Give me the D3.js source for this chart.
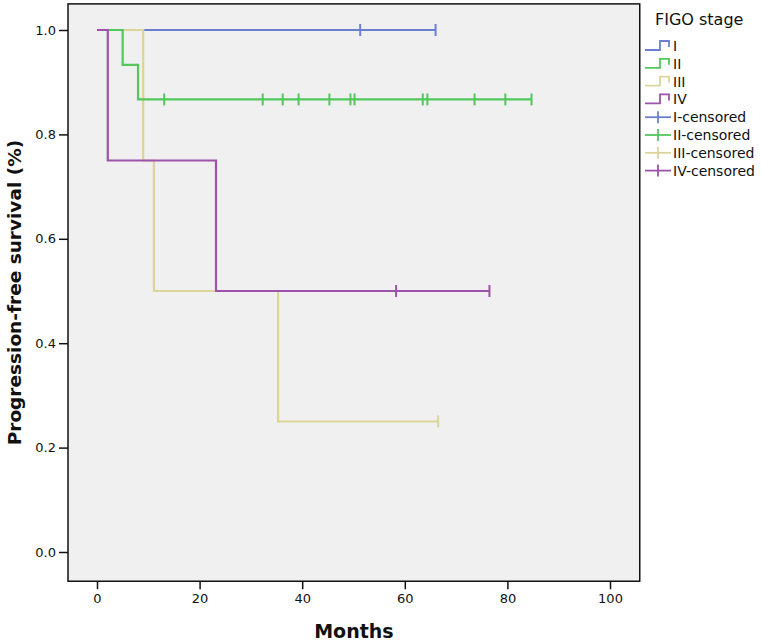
<!DOCTYPE html>
<html>
<head>
<meta charset="utf-8">
<script src="https://cdn.jsdelivr.net/npm/d3@7"></script>
<style>
  html, body { margin: 0; padding: 0; background: #fff; }
  svg { display: block; }
  text { font-family: "DejaVu Sans", sans-serif; fill: #111; }
</style>
</head>
<body>
<svg id="chart" width="762" height="641"></svg>
<script>
// ---- data ----
const stages = ["I", "II", "III", "IV"];
const stageColors = ["#6b7fd1", "#52c85c", "#dcd59b", "#9d52ab"];

const stageI_times = [0, 66];
const stageI_surv = [1.0, 1.0];
const stageI_censor = [51.3, 66];

const stageII_times = [0, 5.0, 8.0, 84.7];
const stageII_surv = [1.0, 0.933, 0.867, 0.867];
const stageII_censor = [13.1, 32.3, 36.2, 39.3, 45.3, 49.4, 50.2, 63.5, 64.4, 73.6, 79.6, 84.7];

const stageIII_times = [0, 9.0, 11.1, 35.3, 66.5];
const stageIII_surv = [1.0, 0.75, 0.5, 0.25, 0.25];
const stageIII_censor = [66.5];

const stageIV_times = [0, 2.1, 23.2, 76.5];
const stageIV_surv = [1.0, 0.75, 0.5, 0.5];
const stageIV_censor = [58.3, 76.5];

const xTicks = [0, 20, 40, 60, 80, 100];
const yTicks = [0.0, 0.2, 0.4, 0.6, 0.8, 1.0];
const legendLabels = ["I", "II", "III", "IV", "I-censored", "II-censored", "III-censored", "IV-censored"];
const xTitle = "Months";
const yTitle = "Progression-free survival (%)";
const legendTitle = "FIGO stage";

// ---- build series ----
const series = [
  { name: "I", times: stageI_times, surv: stageI_surv, censor: stageI_censor, color: stageColors[0] },
  { name: "II", times: stageII_times, surv: stageII_surv, censor: stageII_censor, color: stageColors[1] },
  { name: "III", times: stageIII_times, surv: stageIII_surv, censor: stageIII_censor, color: stageColors[2] },
  { name: "IV", times: stageIV_times, surv: stageIV_surv, censor: stageIV_censor, color: stageColors[3] }
];
// survival level at a time t (step function)
function survAt(s, t) {
  let v = s.surv[0];
  for (let i = 0; i < s.times.length; i++) if (s.times[i] <= t) v = s.surv[i];
  return v;
}

const svg = d3.select("#chart");
const x = d3.scaleLinear().domain([0, 100]).range([97, 610]);
const y = d3.scaleLinear().domain([0, 1]).range([552, 30]);

const fx0 = x(-5.65), fx1 = x(105.8), fy0 = y(1.05), fy1 = y(-0.056);

// plot background
svg.append("rect")
  .attr("x", fx0).attr("y", fy0)
  .attr("width", fx1 - fx0).attr("height", fy1 - fy0)
  .attr("fill", "#f0f0f0")
  .attr("stroke", "#111").attr("stroke-width", 1.5);

// y axis ticks
const yAxis = d3.axisLeft(y).tickValues(yTicks).tickFormat(d3.format(".1f")).tickSize(9).tickPadding(3);
const gy = svg.append("g").attr("transform", `translate(${fx0},0)`).call(yAxis);
gy.select(".domain").remove();
gy.selectAll(".tick line").attr("stroke", "#111").attr("stroke-width", 1.5);
gy.selectAll(".tick text").attr("font-size", 13).attr("font-family", "DejaVu Sans, sans-serif").attr("fill", "#111");

// x axis ticks
const xAxis = d3.axisBottom(x).tickValues(xTicks).tickFormat(d3.format("d")).tickSize(8).tickPadding(5);
const gx = svg.append("g").attr("transform", `translate(0,${fy1})`).call(xAxis);
gx.select(".domain").remove();
gx.selectAll(".tick line").attr("stroke", "#111").attr("stroke-width", 1.5);
gx.selectAll(".tick text").attr("font-size", 13).attr("font-family", "DejaVu Sans, sans-serif").attr("fill", "#111");

// axis titles
svg.append("text")
  .attr("x", (fx0 + fx1) / 2).attr("y", 638)
  .attr("text-anchor", "middle")
  .attr("font-size", 19).attr("font-weight", "bold")
  .text(xTitle);
svg.append("text")
  .attr("transform", `translate(21,${(fy0 + fy1) / 2}) rotate(-90)`)
  .attr("text-anchor", "middle")
  .attr("font-size", 18.5).attr("font-weight", "bold")
  .text(yTitle);

// curves
const line = d3.line().x(d => x(d[0])).y(d => y(d[1])).curve(d3.curveStepAfter);
const drawOrder = [0, 2, 1, 3];
const gCurves = svg.append("g");
drawOrder.forEach(i => {
  const s = series[i];
  const pts = s.times.map((t, k) => [t, s.surv[k]]);
  gCurves.append("path")
    .attr("d", line(pts))
    .attr("fill", "none")
    .attr("stroke", s.color)
    .attr("stroke-width", 2.2)
    .attr("stroke-linejoin", "miter");
});
// censor marks
drawOrder.forEach(i => {
  const s = series[i];
  gCurves.selectAll(null)
    .data(s.censor)
    .enter().append("line")
    .attr("x1", d => x(d)).attr("x2", d => x(d))
    .attr("y1", d => y(survAt(s, d)) - 6)
    .attr("y2", d => y(survAt(s, d)) + 6)
    .attr("stroke", s.color)
    .attr("stroke-width", 2);
});

// legend
const lg = svg.append("g");
lg.append("text").attr("x", 655).attr("y", 25).attr("font-size", 16).text(legendTitle);
const ly0 = 46, lstep = 17.8;
legendLabels.forEach((lab, i) => {
  const yy = ly0 + i * lstep;
  const col = stageColors[i % 4];
  if (i < 4) {
    lg.append("path")
      .attr("d", `M645,${yy + 4} H660 V${yy - 5} H669 V${yy + 1}`)
      .attr("fill", "none").attr("stroke", col).attr("stroke-width", 1.8);
  } else {
    lg.append("line").attr("x1", 645).attr("x2", 671).attr("y1", yy).attr("y2", yy)
      .attr("stroke", col).attr("stroke-width", 1.8);
    lg.append("line").attr("x1", 658).attr("x2", 658).attr("y1", yy - 6).attr("y2", yy + 6)
      .attr("stroke", col).attr("stroke-width", 1.8);
  }
  lg.append("text").attr("x", 673).attr("y", yy + 5).attr("font-size", 14).text(lab);
});
</script>
</body>
</html>
